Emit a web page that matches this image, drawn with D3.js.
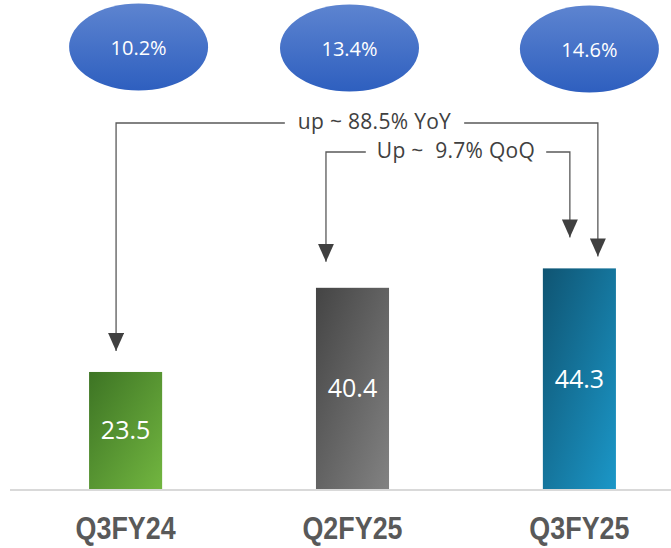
<!doctype html>
<html lang="en">

<head>
    <meta charset="UTF-8" />
    <script src="https://d3js.org/d3.v7.min.js"></script>
    <title>Quarterly bars</title>
    <style>
        body { margin: 0; background: #fff; }
    </style>
</head>

<body>
    <div id="chart"></div>
    <script type="module">
        // Data
        const quarters = ["Q3FY24", "Q2FY25", "Q3FY25"]
        const values = [23.5, 40.4, 44.3]
        const margins = ["10.2%", "13.4%", "14.6%"]
        const yoyLabel = "up ~ 88.5% YoY"
        const qoqLabel = "Up ~  9.7% QoQ"

        const W = 671, H = 548
        const baseY = 489

        // Gradient colours per bar (top-left -> bottom-right)
        const barColors = [
            ["#3d7424", "#72b640"],
            ["#444444", "#828282"],
            ["#0f5472", "#1b97c8"]
        ]
        // small horizontal nudge of the ovals relative to the bars
        const ovalNudge = [13, -3, 10]

        const svg = d3.select("#chart").append("svg")
            .attr("width", W)
            .attr("height", H)

        const x = d3.scaleBand()
            .domain(quarters)
            .range([21, 684])
            .paddingInner(0.678)
            .paddingOuter(0.3)

        const y = d3.scaleLinear().domain([0, 50]).range([baseY, 240])

        const defs = svg.append("defs")

        barColors.forEach((c, i) => {
            const g = defs.append("linearGradient")
                .attr("id", `bar-grad-${i}`)
                .attr("x1", 0).attr("y1", 0).attr("x2", 1).attr("y2", 1)
            g.append("stop").attr("offset", "0%").attr("stop-color", c[0])
            g.append("stop").attr("offset", "100%").attr("stop-color", c[1])
        })

        const ovalGrad = defs.append("linearGradient")
            .attr("id", "oval-grad")
            .attr("x1", 0).attr("y1", 0).attr("x2", 0).attr("y2", 1)
        ovalGrad.append("stop").attr("offset", "0%").attr("stop-color", "#5d84d0")
        ovalGrad.append("stop").attr("offset", "100%").attr("stop-color", "#2e5fbf")

        // arrow head drawn pointing along +x, rotated by orient=auto
        defs.append("marker")
            .attr("id", "arrow")
            .attr("viewBox", "0 0 18 16")
            .attr("refX", 18).attr("refY", 8)
            .attr("markerWidth", 18).attr("markerHeight", 16)
            .attr("markerUnits", "userSpaceOnUse")
            .attr("orient", "auto")
            .append("path")
            .attr("d", "M0,0 L18,8 L0,16 Z")
            .attr("fill", "#404040")

        // baseline
        svg.append("line")
            .attr("x1", 10).attr("x2", W)
            .attr("y1", baseY + 1).attr("y2", baseY + 1)
            .attr("stroke", "#d9d9d9")
            .attr("stroke-width", 2)

        // bars
        svg.selectAll(".bar")
            .data(quarters)
            .join("rect")
            .attr("class", "bar")
            .attr("x", d => x(d))
            .attr("y", (d, i) => y(values[i]))
            .attr("width", x.bandwidth())
            .attr("height", (d, i) => baseY - y(values[i]))
            .attr("fill", (d, i) => `url(#bar-grad-${i})`)

        svg.selectAll(".val")
            .data(quarters)
            .join("text")
            .attr("class", "val")
            .attr("x", d => x(d) + x.bandwidth() / 2)
            .attr("y", (d, i) => (y(values[i]) + baseY) / 2)
            .attr("dy", "0.36em")
            .attr("text-anchor", "middle")
            .attr("fill", "#fff")
            .style("font-family", "'Open Sans', sans-serif")
            .style("font-size", "25px")
            .text((d, i) => values[i])

        // category labels (Liberation Sans squeezed to look condensed)
        svg.selectAll(".cat")
            .data(quarters)
            .join("text")
            .attr("class", "cat")
            .attr("transform", d => `translate(${x(d) + x.bandwidth() / 2},539) scale(0.84,1)`)
            .attr("text-anchor", "middle")
            .attr("fill", "#595959")
            .style("font-family", "'Liberation Sans', Arial, sans-serif")
            .style("font-weight", "bold")
            .style("font-size", "32px")
            .text(d => d)

        // ovals with margins
        const ovals = svg.selectAll(".oval")
            .data(quarters)
            .join("g")
            .attr("class", "oval")
            .attr("transform", (d, i) => `translate(${x(d) + x.bandwidth() / 2 + ovalNudge[i]},${47 + i})`)

        ovals.append("ellipse")
            .attr("rx", 69.5).attr("ry", 43.5)
            .attr("fill", "url(#oval-grad)")

        ovals.append("text")
            .attr("y", 1)
            .attr("dy", "0.36em")
            .attr("text-anchor", "middle")
            .attr("fill", "#fff")
            .style("font-family", "'Open Sans', sans-serif")
            .style("font-size", "20px")
            .text((d, i) => margins[i])

        // bracket annotations
        function bracket(label, level, fromX, fromTip, toX, toTip, textX, gap) {
            const t = svg.append("text")
                .attr("x", textX)
                .attr("y", level)
                .attr("dy", "0.3em")
                .attr("text-anchor", "middle")
                .attr("fill", "#404040")
                .style("font-family", "'Open Sans', sans-serif")
                .style("font-size", "21px")
                .style("letter-spacing", "0.3px")
                .style("white-space", "pre")
                .text(label)
            const w = t.node().getComputedTextLength()
            const left = textX - w / 2 - gap
            const right = textX + w / 2 + gap

            svg.append("path")
                .attr("d", `M${left},${level} H${fromX} V${fromTip}`)
                .attr("fill", "none")
                .attr("stroke", "#595959")
                .attr("stroke-width", 1.3)
                .attr("marker-end", "url(#arrow)")

            svg.append("path")
                .attr("d", `M${right},${level} H${toX} V${toTip}`)
                .attr("fill", "none")
                .attr("stroke", "#595959")
                .attr("stroke-width", 1.3)
                .attr("marker-end", "url(#arrow)")
        }

        const b0 = x(quarters[0]), b1 = x(quarters[1]), b2 = x(quarters[2])

        bracket(yoyLabel, 123,
            b0 + 27, y(values[0]) - 21,
            b2 + 55, y(values[2]) - 12,
            374.5, 13)

        bracket(qoqLabel, 152,
            b1 + 10, y(values[1]) - 26,
            b2 + 27, y(values[2]) - 31,
            456, 11)
    </script>
</body>

</html>
